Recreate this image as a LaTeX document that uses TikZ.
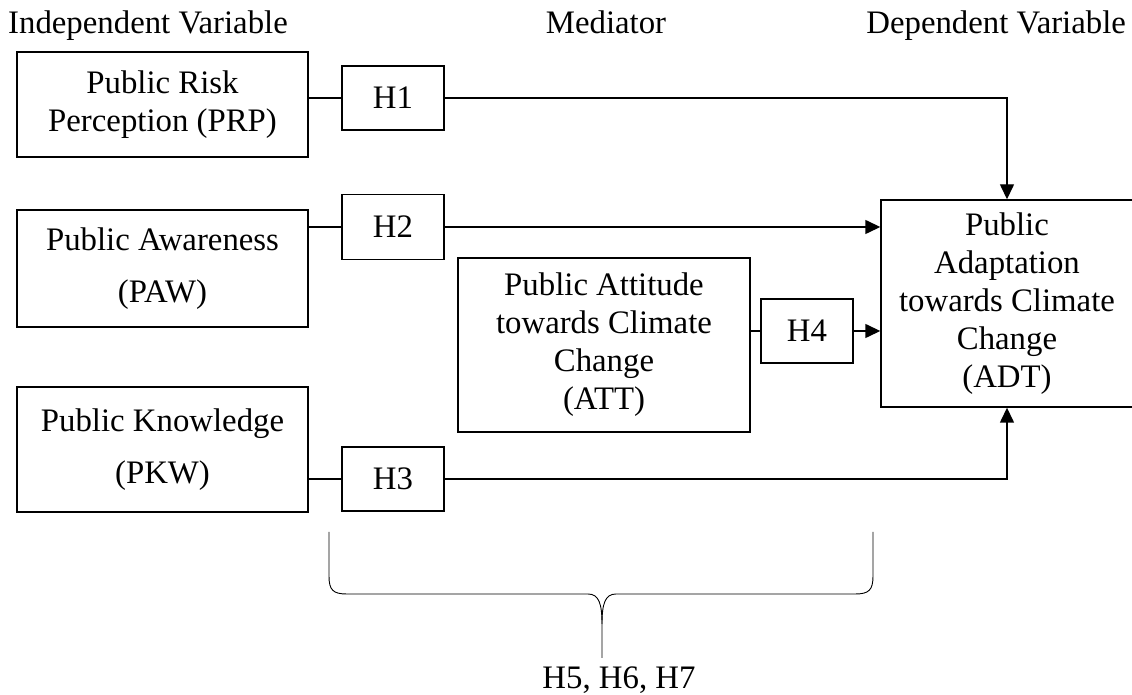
\documentclass[tikz,border=0pt]{standalone}
\usepackage{fontspec}
\setmainfont{Liberation Serif}
\usetikzlibrary{arrows.meta,positioning,calc}

\begin{document}
\begin{tikzpicture}[
    x=0.5pt, y=-0.5pt,
    every node/.style={font=\fontsize{16.4}{19}\selectfont},
    varbox/.style={rectangle, draw=black, line width=0.7pt, inner sep=0pt, align=center},
    hypbox/.style={rectangle, draw=black, line width=0.7pt, inner sep=0pt, minimum width=51pt, minimum height=32pt},
    link/.style={line width=0.7pt},
    arrow/.style={-{Triangle[length=7.5pt,width=7pt]}, line width=0.7pt}
]
    \useasboundingbox (0,0) rectangle (1132,695);

    % Headings
    \node[anchor=base] (indep) at (148,34) {Independent Variable};
    \node[anchor=base] (medi) at (606,34) {Mediator};
    \node[anchor=base east] (dep) at (1133,34) {Dependent Variable};

    % Variables
    \node[varbox, minimum width=145.5pt, minimum height=52.5pt] (prp) at (162.5,104.5) {Public Risk\\Perception (PRP)};
    \node[varbox, minimum width=145.5pt, minimum height=58.5pt] (paw) at (162.5,268.5) {Public Awareness\\[7pt](PAW)};
    \node[varbox, minimum width=145.5pt, minimum height=62.5pt] (pkw) at (162.5,449.5) {Public Knowledge\\[7pt](PKW)};
    \node[varbox, minimum width=146pt, minimum height=87pt] (att) at (604,345) {Public Attitude\\towards Climate\\Change\\(ATT)};
    \node[varbox, minimum width=126pt, minimum height=103.5pt] (adt) at (1007,303.5) {Public\\Adaptation\\towards Climate\\Change\\(ADT)};

    % Hypotheses
    \node[hypbox] (h1) at (393,98) {H1};
    \node[hypbox, minimum height=32.5pt] (h2) at (393,227) {H2};
    \node[hypbox] (h3) at (393,479) {H3};
    \node[hypbox, minimum width=46pt] (h4) at (807,331) {H4};

    % Paths
    \draw[link] (prp.east |- h1.west) -- (h1.west);
    \draw[arrow] (h1.east) -| (adt.north);
    \draw[link] (paw.east |- h2.west) -- (h2.west);
    \draw[arrow] (h2.east) -- (adt.west |- h2.east);
    \draw[link] (att.east |- h4.west) -- (h4.west);
    \draw[arrow] (h4.east) -- (adt.west |- h4.east);
    \draw[link] (pkw.east |- h3.west) -- (h3.west);
    \draw[arrow] (h3.east) -| (adt.south);

    % Brace for H5, H6, H7
    \draw[line width=0.45pt] (329,532) -- (329,576) .. controls (329,590) and (333,594) .. (347,594)
        -- (588,594) .. controls (599,594) and (602,604) .. (602,624) -- (602,658);
    \draw[line width=0.45pt] (873,532) -- (873,576) .. controls (873,590) and (869,594) .. (855,594)
        -- (616,594) .. controls (605,594) and (602,604) .. (602,624);
    \node (med) at (619,680) {H5, H6, H7};
\end{tikzpicture}
\end{document}
